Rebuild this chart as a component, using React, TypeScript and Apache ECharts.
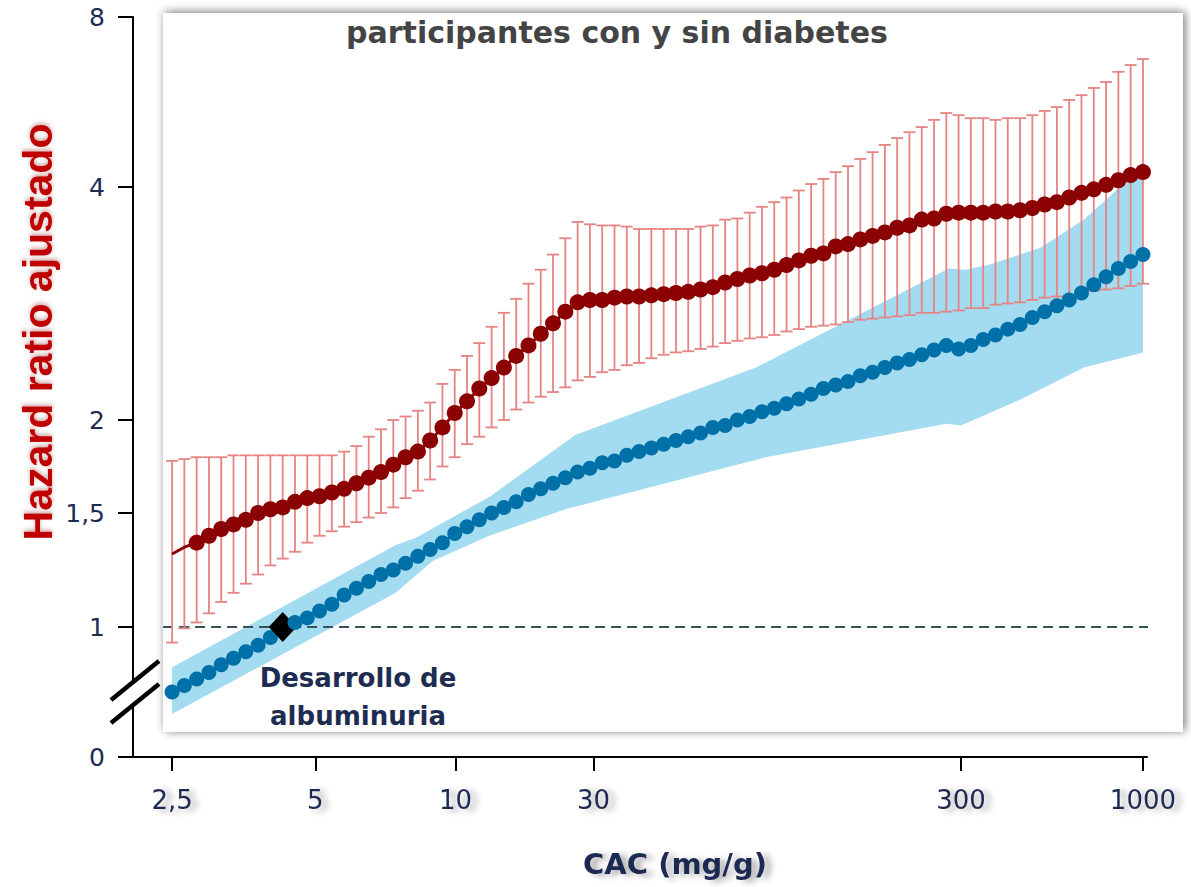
import { useEffect, useRef } from 'react';
import * as echarts from 'echarts';

// ---- axis definitions ----
const CAC_TICK_LABELS = ['2,5', '5', '10', '30', '300', '1000'];
const CAC_TICK_POS = [0, 11.65, 23.06, 34.3, 64.2, 79];
const HR_TICK_LABELS = ['0', '1', '1,5', '2', '4', '8'];
const HR_TICK_VALUES = [0, 1, 1.5, 2, 4, 8];
const HR_TICK_POS = [0, 130, 244, 337, 570, 740];

// ---- data (hazard ratios, per point along CAC) ----
const RED_HR = [
  1.32, 1.35, 1.37, 1.40, 1.43, 1.45, 1.47, 1.50, 1.52, 1.53,
  1.56, 1.58, 1.59, 1.61, 1.63, 1.66, 1.69, 1.72, 1.76, 1.80,
  1.83, 1.89, 1.96, 2.06, 2.16, 2.27, 2.36, 2.45, 2.55, 2.64,
  2.74, 2.83, 2.93, 3.01, 3.03, 3.03, 3.05, 3.06, 3.06, 3.07,
  3.08, 3.09, 3.10, 3.12, 3.14, 3.18, 3.21, 3.24, 3.26, 3.29,
  3.33, 3.37, 3.41, 3.43, 3.49, 3.51, 3.55, 3.58, 3.61, 3.65,
  3.67, 3.72, 3.73, 3.77, 3.78, 3.78, 3.78, 3.79, 3.79, 3.80,
  3.82, 3.85, 3.87, 3.91, 3.95, 3.98, 4.05, 4.16, 4.28, 4.35,
];
const RED_UPPER = [
  1.78, 1.79, 1.80, 1.80, 1.80, 1.81, 1.81, 1.81, 1.81, 1.81,
  1.81, 1.81, 1.81, 1.81, 1.83, 1.86, 1.91, 1.95, 2.00, 2.03,
  2.08, 2.15, 2.31, 2.43, 2.55, 2.66, 2.80, 2.92, 3.04, 3.17,
  3.29, 3.42, 3.56, 3.70, 3.68, 3.67, 3.67, 3.66, 3.64, 3.64,
  3.64, 3.64, 3.64, 3.66, 3.67, 3.72, 3.73, 3.78, 3.83, 3.87,
  3.91, 3.97, 4.07, 4.19, 4.35, 4.49, 4.66, 4.82, 4.99, 5.15,
  5.29, 5.41, 5.58, 5.74, 5.69, 5.62, 5.62, 5.58, 5.62, 5.62,
  5.69, 5.79, 5.88, 6.05, 6.16, 6.33, 6.47, 6.71, 6.87, 7.01,
];
const RED_LOWER = [
  0.88, 0.99, 1.02, 1.06, 1.11, 1.15, 1.19, 1.23, 1.27, 1.30,
  1.33, 1.37, 1.40, 1.42, 1.44, 1.46, 1.48, 1.50, 1.53, 1.58,
  1.62, 1.68, 1.75, 1.80, 1.87, 1.91, 1.96, 2.00, 2.09, 2.15,
  2.20, 2.24, 2.28, 2.34, 2.37, 2.41, 2.43, 2.47, 2.49, 2.53,
  2.56, 2.58, 2.59, 2.61, 2.63, 2.66, 2.68, 2.70, 2.71, 2.73,
  2.76, 2.78, 2.80, 2.81, 2.82, 2.84, 2.86, 2.87, 2.88, 2.89,
  2.90, 2.92, 2.92, 2.93, 2.94, 2.96, 2.96, 2.99, 3.00, 3.01,
  3.03, 3.05, 3.06, 3.07, 3.09, 3.11, 3.12, 3.13, 3.15, 3.17,
];
const BLUE_HR = [
  0.50, 0.55, 0.60, 0.65, 0.71, 0.76, 0.81, 0.86, 0.92, 1.00,
  1.02, 1.04, 1.07, 1.10, 1.14, 1.17, 1.20, 1.23, 1.25, 1.28,
  1.31, 1.34, 1.37, 1.41, 1.44, 1.47, 1.50, 1.53, 1.56, 1.60,
  1.63, 1.66, 1.69, 1.72, 1.74, 1.77, 1.78, 1.81, 1.83, 1.85,
  1.87, 1.89, 1.91, 1.93, 1.96, 1.97, 2.00, 2.03, 2.07, 2.10,
  2.14, 2.18, 2.22, 2.27, 2.30, 2.33, 2.38, 2.41, 2.45, 2.49,
  2.52, 2.56, 2.60, 2.64, 2.61, 2.64, 2.69, 2.73, 2.78, 2.82,
  2.88, 2.93, 2.98, 3.03, 3.09, 3.16, 3.23, 3.30, 3.36, 3.42,
];
const BAND_UPPER_X = [0, 18.2, 19.8, 25.9, 32.8, 47.5, 63.2, 64.5, 66.4, 70.7, 74.2, 76.7, 79];
const BAND_UPPER_HR = [0.69, 1.36, 1.39, 1.59, 1.92, 2.45, 3.30, 3.29, 3.33, 3.48, 3.72, 3.96, 4.59];
const BAND_LOWER_X = [0, 18.2, 21.2, 25.8, 32.0, 48.3, 63.0, 64.2, 68.9, 74.2, 79];
const BAND_LOWER_HR = [0.33, 1.15, 1.29, 1.40, 1.52, 1.80, 1.98, 1.97, 2.17, 2.45, 2.58];
const DIAMOND_INDEX = 9;
const FIRST_RED_MARKER = 2;
const REFERENCE_HR = 1;
const REFERENCE_X = [-0.73, 81.6];

function toAxis(hr: number): number {
  const n = HR_TICK_VALUES.length;
  for (let k = 0; k < n - 1; k++) {
    const a = HR_TICK_VALUES[k];
    const b = HR_TICK_VALUES[k + 1];
    if (hr <= b || k === n - 2) {
      const t = (hr - a) / (b - a);
      return HR_TICK_POS[k] + t * (HR_TICK_POS[k + 1] - HR_TICK_POS[k]);
    }
  }
  return 0;
}

function labelFor(pos: number[], labels: string[]) {
  return (v: number) => {
    const k = pos.findIndex((p) => Math.abs(p - v) < 1e-6);
    return k >= 0 ? labels[k] : '';
  };
}

const NAVY = '#1f2c52';
const SHADOW = {
  textShadowColor: 'rgba(0,0,0,0.35)',
  textShadowBlur: 6,
  textShadowOffsetX: 6,
  textShadowOffsetY: 2,
};

export default function App() {
  const ref = useRef<HTMLDivElement>(null);
  useEffect(() => {
    if (!ref.current) return;
    const chart = echarts.init(ref.current, null, { renderer: 'svg' });

    const bandSeries = {
      type: 'custom',
      silent: true,
      z: 1,
      data: [[0, 0]],
      renderItem: (_p: any, api: any) => {
        const pts: number[][] = [];
        BAND_UPPER_X.forEach((x, k) => pts.push(api.coord([x, toAxis(BAND_UPPER_HR[k])])));
        for (let k = BAND_LOWER_X.length - 1; k >= 0; k--) {
          pts.push(api.coord([BAND_LOWER_X[k], toAxis(BAND_LOWER_HR[k])]));
        }
        return { type: 'polygon', shape: { points: pts }, style: { fill: '#a3dcf1' } };
      },
    };

    const refLineSeries = {
      type: 'line',
      silent: true,
      z: 2,
      clip: false,
      symbol: 'none',
      lineStyle: { type: [10, 6], color: '#34545c', width: 2 },
      data: REFERENCE_X.map((x) => [x, toAxis(REFERENCE_HR)]),
    };

    const errorSeries = {
      type: 'custom',
      silent: true,
      z: 3,
      encode: { x: 0, y: [1, 2] },
      data: RED_LOWER.map((lo, i) => [i, toAxis(lo), toAxis(RED_UPPER[i])]),
      renderItem: (_p: any, api: any) => {
        const x = api.value(0);
        const lo = api.coord([x, api.value(1)]);
        const hi = api.coord([x, api.value(2)]);
        const w = 6;
        const style = { stroke: '#e68383', lineWidth: 1.8 };
        return {
          type: 'group',
          children: [
            { type: 'line', shape: { x1: lo[0], y1: lo[1], x2: hi[0], y2: hi[1] }, style },
            { type: 'line', shape: { x1: hi[0] - w, y1: hi[1], x2: hi[0] + w, y2: hi[1] }, style },
            { type: 'line', shape: { x1: lo[0] - w, y1: lo[1], x2: lo[0] + w, y2: lo[1] }, style },
          ],
        };
      },
    };

    const blueSeries = {
      type: 'line',
      z: 4,
      symbol: 'circle',
      symbolSize: 15,
      lineStyle: { color: '#0070a8', width: 3 },
      itemStyle: { color: '#0070a8' },
      data: BLUE_HR.map((v, i) =>
        i === DIAMOND_INDEX
          ? { value: [i, toAxis(v)], symbol: 'diamond', symbolSize: [28, 30], itemStyle: { color: '#000' }, z: 10 }
          : [i, toAxis(v)]
      ),
    };

    const redSeries = {
      type: 'line',
      z: 5,
      symbol: 'circle',
      symbolSize: 16,
      lineStyle: { color: '#8b0000', width: 3 },
      itemStyle: { color: '#8b0000' },
      data: RED_HR.map((v, i) =>
        i < FIRST_RED_MARKER ? { value: [i, toAxis(v)], symbol: 'none' } : [i, toAxis(v)]
      ),
    };

    const option: any = {
      animation: false,
      backgroundColor: '#ffffff',
      grid: { left: 133, right: 44, top: 17, bottom: 130, containLabel: false, outerBoundsMode: 'none' },
      xAxis: {
        type: 'value',
        min: -3.18,
        max: 79.33,
        splitLine: { show: false },
        axisLine: { show: true, onZero: false, lineStyle: { color: '#000', width: 2 } },
        axisTick: { show: true, customValues: CAC_TICK_POS, length: 14, lineStyle: { color: '#000', width: 2 } },
        axisLabel: {
          customValues: CAC_TICK_POS,
          formatter: labelFor(CAC_TICK_POS, CAC_TICK_LABELS),
          margin: 30,
          fontSize: 26,
          fontFamily: 'DejaVu Sans, sans-serif',
          color: NAVY,
          ...SHADOW,
        },
      },
      yAxis: {
        type: 'value',
        min: 0,
        max: 740,
        splitLine: { show: false },
        axisLine: { show: true, onZero: false, lineStyle: { color: '#000', width: 2 } },
        axisTick: { show: true, customValues: HR_TICK_POS, length: 15, lineStyle: { color: '#000', width: 2 } },
        axisLabel: {
          customValues: HR_TICK_POS,
          formatter: labelFor(HR_TICK_POS, HR_TICK_LABELS),
          margin: 28,
          fontSize: 25,
          fontFamily: 'DejaVu Sans, sans-serif',
          color: NAVY,
        },
      },
      graphic: [
        {
          type: 'rect',
          z: -10,
          silent: true,
          shape: { x: 163, y: 13, width: 1020, height: 719 },
          style: {
            fill: '#ffffff',
            shadowBlur: 10,
            shadowColor: 'rgba(0,0,0,0.55)',
            shadowOffsetX: 2,
            shadowOffsetY: -1,
          },
        },
        {
          type: 'polygon',
          z: 50,
          silent: true,
          shape: { points: [[113, 698], [157, 663], [157, 686], [113, 721]] },
          style: { fill: '#ffffff' },
        },
        {
          type: 'line',
          z: 51,
          silent: true,
          shape: { x1: 111, y1: 700, x2: 159, y2: 661 },
          style: { stroke: '#000', lineWidth: 4.5 },
        },
        {
          type: 'line',
          z: 51,
          silent: true,
          shape: { x1: 111, y1: 723, x2: 159, y2: 684 },
          style: { stroke: '#000', lineWidth: 4.5 },
        },
        {
          type: 'text',
          z: 50,
          x: 617,
          y: 32,
          style: {
            text: 'participantes con y sin diabetes',
            fontFamily: 'DejaVu Sans, sans-serif',
            fontWeight: 'bold',
            fontSize: 30,
            fill: '#444444',
            align: 'center',
            verticalAlign: 'middle',
          },
        },
        {
          type: 'text',
          z: 50,
          x: 38,
          y: 332,
          rotation: Math.PI / 2,
          style: {
            text: 'Hazard ratio ajustado',
            fontFamily: 'Liberation Sans, Arial, sans-serif',
            fontWeight: 'bold',
            fontSize: 41,
            fill: '#c00000',
            align: 'center',
            verticalAlign: 'middle',
            textShadowColor: 'rgba(120,0,0,0.35)',
            textShadowBlur: 4,
            textShadowOffsetX: 2,
          },
        },
        {
          type: 'text',
          z: 50,
          x: 358,
          y: 697,
          style: {
            text: 'Desarrollo de\nalbuminuria',
            fontFamily: 'DejaVu Sans, sans-serif',
            fontWeight: 'bold',
            fontSize: 26,
            lineHeight: 38,
            fill: NAVY,
            align: 'center',
            verticalAlign: 'middle',
          },
        },
        {
          type: 'text',
          z: 50,
          x: 675,
          y: 864,
          style: {
            text: 'CAC (mg/g)',
            fontFamily: 'DejaVu Sans, sans-serif',
            fontWeight: 'bold',
            fontSize: 29,
            fill: NAVY,
            align: 'center',
            verticalAlign: 'middle',
            ...SHADOW,
          },
        },
      ],
      series: [bandSeries, refLineSeries, errorSeries, blueSeries, redSeries],
    };
    chart.setOption(option);
    return () => chart.dispose();
  }, []);

  return <div ref={ref} style={{ position: 'absolute', left: 0, top: 0, width: 1191, height: 887 }} />;
}
